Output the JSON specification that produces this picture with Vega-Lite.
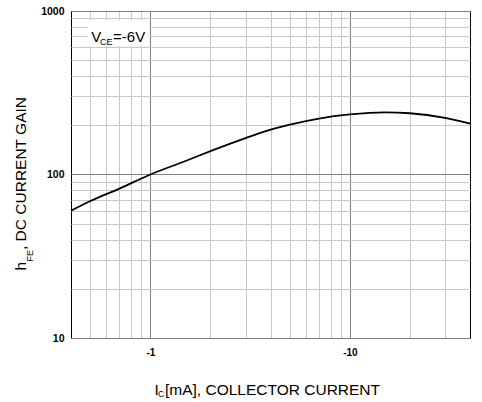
{
  "$schema": "https://vega.github.io/schema/vega-lite/v6.json",
  "autosize": {"type": "none"},
  "width": 399,
  "height": 327,
  "padding": {"left": 71, "top": 11, "right": 12, "bottom": 64},
  "background": "white",
  "config": {
    "view": {"stroke": "black", "strokeWidth": 1},
    "font": "Liberation Sans",
    "axis": {"labelFont": "Liberation Sans", "titleFont": "Liberation Sans"}
  },
  "datasets": {
    "curve": [
      {"ic": 0.4, "hfe": 60},
      {"ic": 0.5, "hfe": 68.8},
      {"ic": 0.7, "hfe": 82},
      {"ic": 1, "hfe": 100},
      {"ic": 1.5, "hfe": 121},
      {"ic": 2, "hfe": 139},
      {"ic": 3, "hfe": 167},
      {"ic": 4, "hfe": 188},
      {"ic": 5, "hfe": 202},
      {"ic": 7, "hfe": 220},
      {"ic": 10, "hfe": 233},
      {"ic": 15, "hfe": 240},
      {"ic": 20, "hfe": 237},
      {"ic": 30, "hfe": 222},
      {"ic": 40, "hfe": 205}
    ],
    "box": [{"x1": 0.486, "x2": 0.985, "y1": 608, "y2": 877}],
    "label": [{"x": 0.506, "y": 643, "t": "V", "sx": 0.559, "sy": 618, "st": "CE", "ex": 0.65, "et": "=-6V"}]
  },
  "resolve": {"axis": {"x": "independent", "y": "independent"}},
  "layer": [
    {
      "data": {"name": "box"},
      "mark": {"type": "rect", "fill": "white", "stroke": null},
      "encoding": {
        "x": {"field": "x1", "type": "quantitative",
          "scale": {"type": "log", "domain": [0.4, 40], "nice": false},
          "axis": {"orient": "bottom", "values": [0.5,0.6,0.7,0.8,0.9,2,3,4,5,6,7,8,9,20,30], "labels": false, "ticks": false, "domain": false, "grid": true, "gridColor": "#c8c8c8", "gridWidth": 1,
            "title": "[mA], COLLECTOR CURRENT", "titleFontSize": 15.5, "titleFontWeight": "normal", "titleColor": "black", "titleAlign": "left", "titleBaseline": "alphabetic", "titleX": 93.5, "titleY": 56}},
        "x2": {"field": "x2"},
        "y": {"field": "y1", "type": "quantitative",
          "scale": {"type": "log", "domain": [10, 1000], "nice": false},
          "axis": {"orient": "left", "values": [20,30,40,50,60,70,80,90,200,300,400,500,600,700,800,900], "labels": false, "ticks": false, "domain": false, "grid": true, "gridColor": "#c8c8c8", "gridWidth": 1,
            "title": ", DC CURRENT GAIN", "titleFontSize": 15.5, "titleFontWeight": "normal", "titleColor": "black", "titleAngle": 270, "titleAlign": "left", "titleBaseline": "alphabetic", "titleX": -46, "titleY": 238.5}},
        "y2": {"field": "y2"}
      }
    },
    {
      "data": {"name": "curve"},
      "mark": {"type": "line", "color": "black", "strokeWidth": 1.8, "interpolate": "monotone"},
      "encoding": {
        "x": {"field": "ic", "type": "quantitative",
          "scale": {"type": "log", "domain": [0.4, 40], "nice": false},
          "axis": {"orient": "bottom", "values": [1, 10], "labelExpr": "'-' + datum.value", "labelFontWeight": "bold", "labelFontSize": 10, "labelColor": "black", "labelPadding": 9, "ticks": false, "domain": false, "grid": true, "gridColor": "#808080", "gridWidth": 1,
            "title": "I", "titleFontSize": 15.5, "titleFontWeight": "normal", "titleColor": "black", "titleAlign": "left", "titleBaseline": "alphabetic", "titleX": 83, "titleY": 56}},
        "y": {"field": "hfe", "type": "quantitative",
          "scale": {"type": "log", "domain": [10, 1000], "nice": false},
          "axis": {"orient": "left", "values": [10, 100, 1000], "labelExpr": "datum.value", "labelFontWeight": "bold", "labelFontSize": 10.5, "labelColor": "black", "labelPadding": 7, "ticks": false, "domain": false, "grid": true, "gridColor": "#808080", "gridWidth": 1,
            "title": "h", "titleFontSize": 15.5, "titleFontWeight": "normal", "titleColor": "black", "titleAngle": 270, "titleAlign": "left", "titleBaseline": "alphabetic", "titleX": -46, "titleY": 259}}
      }
    },
    {
      "data": {"name": "label"},
      "mark": {"type": "text", "align": "left", "baseline": "alphabetic", "fontSize": 15, "color": "black"},
      "encoding": {
        "x": {"field": "x", "type": "quantitative",
          "scale": {"type": "log", "domain": [0.4, 40], "nice": false},
          "axis": {"orient": "bottom", "labels": false, "ticks": false, "domain": false, "grid": false, "title": "C", "titleFontSize": 8.5, "titleFontWeight": "normal", "titleColor": "black", "titleAlign": "left", "titleBaseline": "alphabetic", "titleX": 86.5, "titleY": 58.5, "values": []}},
        "y": {"field": "y", "type": "quantitative",
          "scale": {"type": "log", "domain": [10, 1000], "nice": false},
          "axis": {"orient": "left", "labels": false, "ticks": false, "domain": false, "grid": false, "title": "FE", "titleFontSize": 9, "titleFontWeight": "normal", "titleColor": "black", "titleAngle": 270, "titleAlign": "left", "titleBaseline": "alphabetic", "titleX": -39, "titleY": 250, "values": []}},
        "text": {"field": "t"}
      }
    },
    {
      "data": {"name": "label"},
      "mark": {"type": "text", "align": "left", "baseline": "alphabetic", "fontSize": 9, "color": "black"},
      "encoding": {
        "x": {"field": "sx", "type": "quantitative", "scale": {"type": "log", "domain": [0.4, 40], "nice": false}, "axis": null},
        "y": {"field": "sy", "type": "quantitative", "scale": {"type": "log", "domain": [10, 1000], "nice": false}, "axis": null},
        "text": {"field": "st"}
      }
    },
    {
      "data": {"name": "label"},
      "mark": {"type": "text", "align": "left", "baseline": "alphabetic", "fontSize": 15, "color": "black"},
      "encoding": {
        "x": {"field": "ex", "type": "quantitative", "scale": {"type": "log", "domain": [0.4, 40], "nice": false}, "axis": null},
        "y": {"field": "y", "type": "quantitative", "scale": {"type": "log", "domain": [10, 1000], "nice": false}, "axis": null},
        "text": {"field": "et"}
      }
    }
  ]
}
